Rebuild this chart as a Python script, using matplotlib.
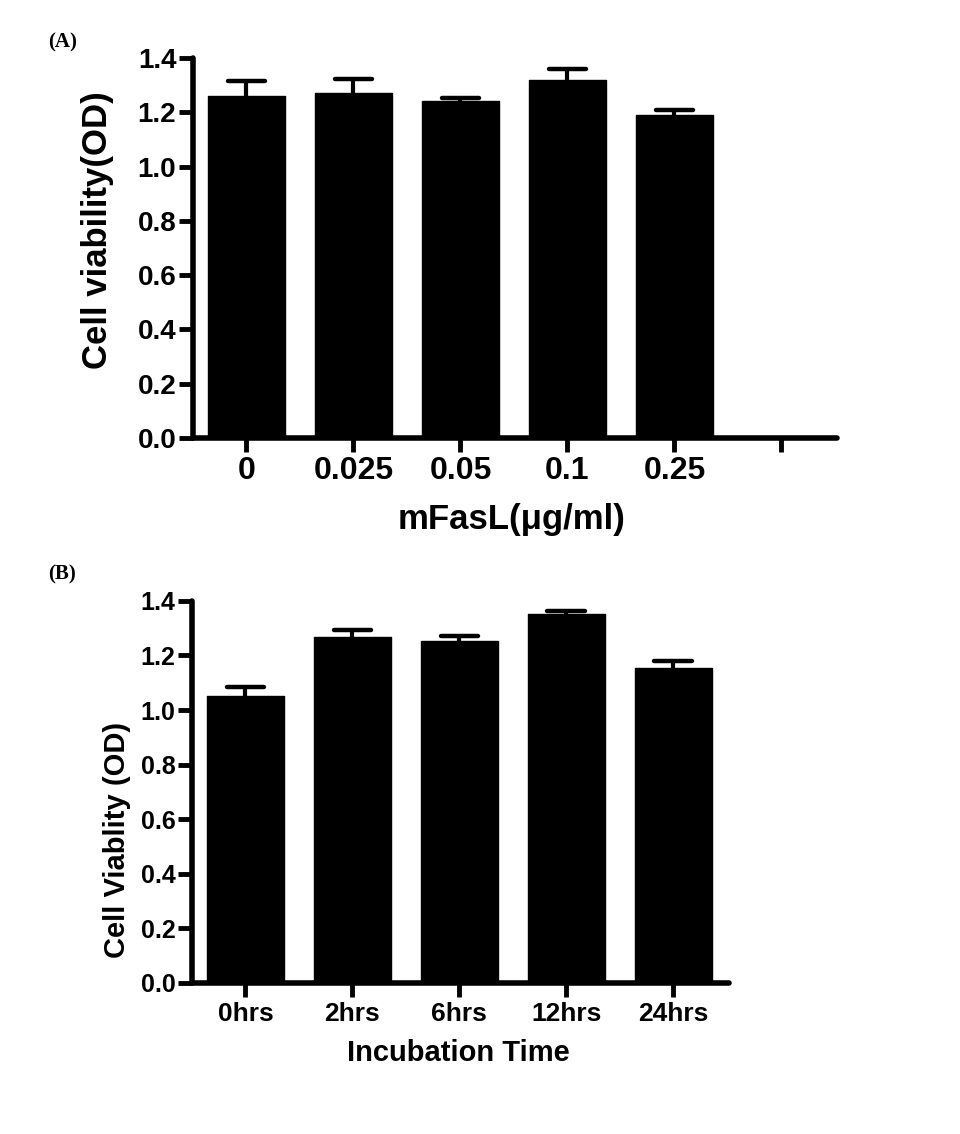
import matplotlib.pyplot as plt
import numpy as np

# panel A - dose
doses = ['0', '0.025', '0.05', '0.1', '0.25', '']
od_a = [1.26, 1.27, 1.243, 1.319, 1.19]
err_a = [0.055, 0.053, 0.011, 0.041, 0.019]

# panel B - time
times = ['0hrs', '2hrs', '6hrs', '12hrs', '24hrs']
od_b = [1.052, 1.267, 1.254, 1.352, 1.154]
err_b = [0.033, 0.027, 0.017, 0.012, 0.024]

plt.rcParams['font.family'] = ['Liberation Sans', 'DejaVu Sans']
plt.rcParams['font.weight'] = 'bold'
plt.rcParams['axes.labelweight'] = 'bold'

fig = plt.figure(figsize=(9.6, 11.34), dpi=100)
ax1 = fig.add_axes([0.201, 0.6138, 0.671, 0.3351])
ax2 = fig.add_axes([0.200, 0.1332, 0.559, 0.3369])


def draw(ax, vals, errs, xmax):
    x = np.arange(len(vals))
    vals = np.array(vals)
    tops = vals + np.array(errs)
    ax.bar(x, vals, width=0.72, color='black', edgecolor='black',
           linewidth=1, joinstyle='round', zorder=2)
    # only the upper half of the error bar, like GraphPad
    ax.vlines(x, vals - 0.01, tops, color='black', linewidth=3, zorder=1)
    ax.hlines(tops, x - 0.175, x + 0.175, color='black', linewidth=3.2,
              capstyle='round', zorder=3)
    ax.set_xlim(-0.5, xmax)
    ax.set_ylim(0, 1.4)
    ax.set_yticks(np.arange(0, 1.41, 0.2))
    ax.set_yticklabels(['%.1f' % v for v in np.arange(0, 1.41, 0.2)])
    for s in ['top', 'right']:
        ax.spines[s].set_visible(False)
    for s in ['left', 'bottom']:
        ax.spines[s].set_linewidth(4)
        ax.spines[s].set_capstyle('round')
    ax.tick_params(axis='both', direction='out', width=3.5, length=10)


draw(ax1, od_a, err_a, 5.52)
ax1.set_xticks(np.arange(len(doses)))
ax1.set_xticklabels(doses)
ax1.tick_params(axis='y', labelsize=20, pad=2)
ax1.tick_params(axis='x', labelsize=23, pad=3)
ax1.set_ylabel('Cell viability(OD)', fontsize=25, fontweight='bold')
ax1.yaxis.set_label_coords(-0.122, 0.547)
ax1.set_xlabel('mFasL(\u03bcg/ml)', fontsize=25, fontweight='bold')
ax1.xaxis.set_label_coords(0.495, -0.17)

draw(ax2, od_b, err_b, 4.52)
ax2.set_xticks(np.arange(len(times)))
ax2.set_xticklabels(times)
ax2.tick_params(axis='y', labelsize=18, pad=2)
ax2.tick_params(axis='x', labelsize=19, pad=4)
ax2.set_ylabel('Cell Viablity (OD)', fontsize=21, fontweight='bold')
ax2.yaxis.set_label_coords(-0.113, 0.374)
ax2.set_xlabel('Incubation Time', fontsize=21, fontweight='bold')
ax2.xaxis.set_label_coords(0.497, -0.148)

fig.text(0.05, 1 - 42 / 1134, '(A)', fontsize=15, family='Liberation Serif',
         fontweight='bold', va='center', ha='left')
fig.text(0.05, 1 - 574 / 1134, '(B)', fontsize=15, family='Liberation Serif',
         fontweight='bold', va='center', ha='left')

fig.savefig('out.png', dpi=100)
